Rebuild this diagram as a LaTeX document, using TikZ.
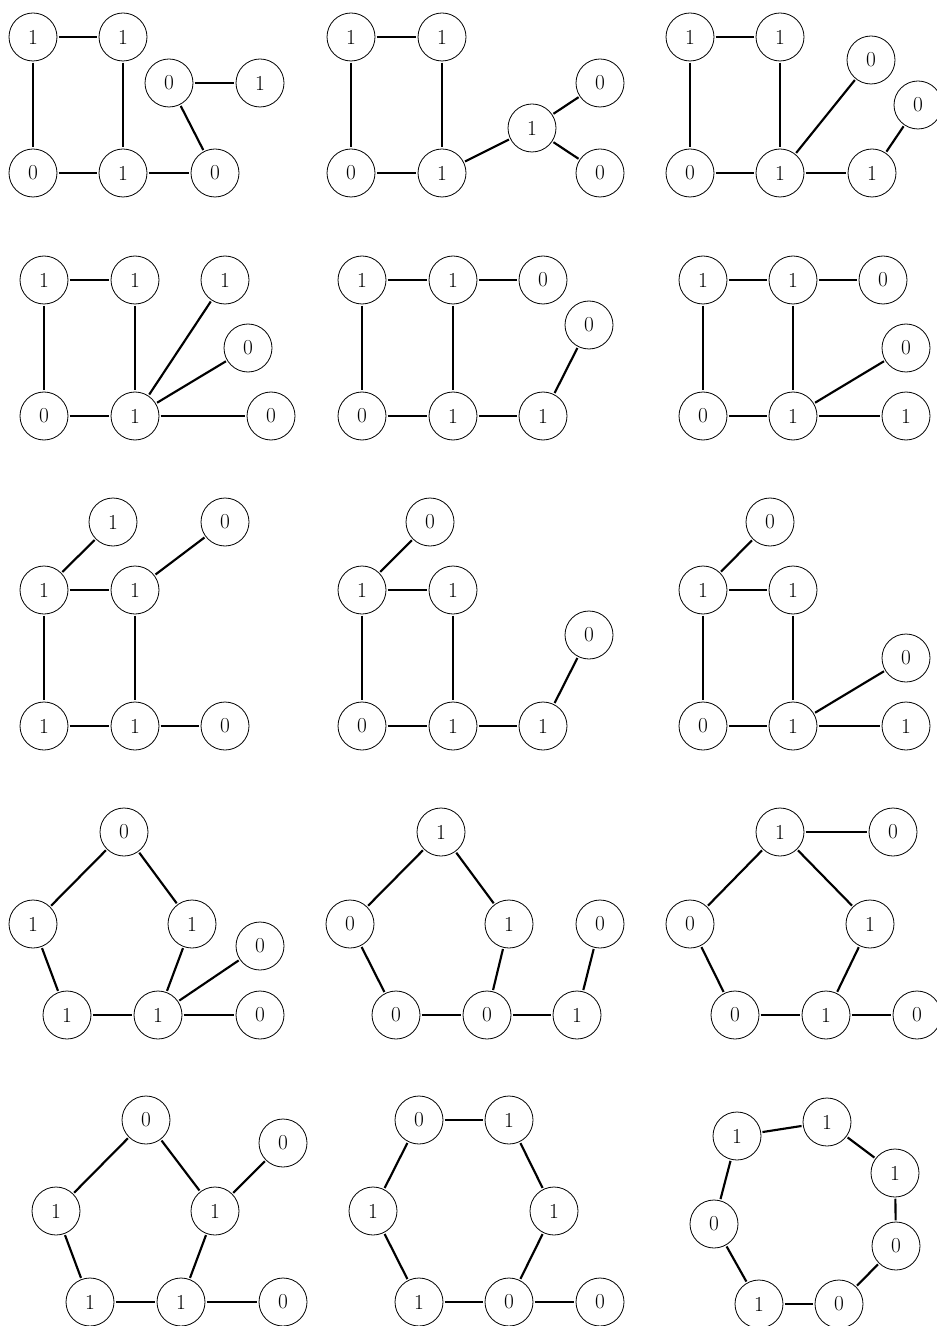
\documentclass[tikz,border=0pt]{standalone}
\begin{document}
\begin{tikzpicture}[x=0.75pt,y=-0.75pt,
  vtx/.style={circle,draw,line width=0.6pt,minimum size=36pt,inner sep=0pt,font=\fontsize{16}{18}\selectfont},
  edge/.style={line width=1.6pt,shorten <=1pt,shorten >=1pt}]
\useasboundingbox (0,0) rectangle (936,1326);
% Graph 1
\node[vtx] (a1) at (33,37) {1};
\node[vtx] (a2) at (123,37) {1};
\node[vtx] (a3) at (169,83) {0};
\node[vtx] (a4) at (260,83) {1};
\node[vtx] (a5) at (33,173) {0};
\node[vtx] (a6) at (123,173) {1};
\node[vtx] (a7) at (215,173) {0};
\draw[edge] (a1)--(a2); \draw[edge] (a1)--(a5); \draw[edge] (a2)--(a6);
\draw[edge] (a5)--(a6); \draw[edge] (a6)--(a7); \draw[edge] (a3)--(a4); \draw[edge] (a3)--(a7);
% Graph 2
\node[vtx] (b1) at (351,37) {1};
\node[vtx] (b2) at (442,37) {1};
\node[vtx] (b3) at (600,83) {0};
\node[vtx] (b4) at (532,128) {1};
\node[vtx] (b5) at (351,173) {0};
\node[vtx] (b6) at (442,173) {1};
\node[vtx] (b7) at (600,173) {0};
\draw[edge] (b1)--(b2); \draw[edge] (b1)--(b5); \draw[edge] (b2)--(b6);
\draw[edge] (b5)--(b6); \draw[edge] (b6)--(b4); \draw[edge] (b4)--(b3); \draw[edge] (b4)--(b7);
% Graph 3
\node[vtx] (c1) at (690,37) {1};
\node[vtx] (c2) at (780,37) {1};
\node[vtx] (c3) at (871,60) {0};
\node[vtx] (c4) at (918,105) {0};
\node[vtx] (c5) at (690,173) {0};
\node[vtx] (c6) at (780,173) {1};
\node[vtx] (c7) at (872,173) {1};
\draw[edge] (c1)--(c2); \draw[edge] (c1)--(c5); \draw[edge] (c2)--(c6);
\draw[edge] (c5)--(c6); \draw[edge] (c6)--(c3); \draw[edge] (c6)--(c7); \draw[edge] (c7)--(c4);
% Graph 4
\node[vtx] (d1) at (44,280) {1};
\node[vtx] (d2) at (135,280) {1};
\node[vtx] (d3) at (225,280) {1};
\node[vtx] (d4) at (248,348) {0};
\node[vtx] (d5) at (44,416) {0};
\node[vtx] (d6) at (135,416) {1};
\node[vtx] (d7) at (271,416) {0};
\draw[edge] (d1)--(d2); \draw[edge] (d1)--(d5); \draw[edge] (d2)--(d6);
\draw[edge] (d5)--(d6); \draw[edge] (d6)--(d3); \draw[edge] (d6)--(d4); \draw[edge] (d6)--(d7);
% Graph 5
\node[vtx] (e1) at (362,280) {1};
\node[vtx] (e2) at (453,280) {1};
\node[vtx] (e3) at (543,280) {0};
\node[vtx] (e4) at (589,325) {0};
\node[vtx] (e5) at (362,416) {0};
\node[vtx] (e6) at (453,416) {1};
\node[vtx] (e7) at (543,416) {1};
\draw[edge] (e1)--(e2); \draw[edge] (e2)--(e3); \draw[edge] (e1)--(e5); \draw[edge] (e2)--(e6);
\draw[edge] (e5)--(e6); \draw[edge] (e6)--(e7); \draw[edge] (e7)--(e4);
% Graph 6
\node[vtx] (f1) at (703,280) {1};
\node[vtx] (f2) at (793,280) {1};
\node[vtx] (f3) at (883,280) {0};
\node[vtx] (f4) at (906,348) {0};
\node[vtx] (f5) at (703,416) {0};
\node[vtx] (f6) at (793,416) {1};
\node[vtx] (f7) at (906,416) {1};
\draw[edge] (f1)--(f2); \draw[edge] (f2)--(f3); \draw[edge] (f1)--(f5); \draw[edge] (f2)--(f6);
\draw[edge] (f5)--(f6); \draw[edge] (f6)--(f4); \draw[edge] (f6)--(f7);
% Graph 7
\node[vtx] (g1) at (113,522) {1};
\node[vtx] (g2) at (225,522) {0};
\node[vtx] (g3) at (44,590) {1};
\node[vtx] (g4) at (135,590) {1};
\node[vtx] (g5) at (44,726) {1};
\node[vtx] (g6) at (135,726) {1};
\node[vtx] (g7) at (225,726) {0};
\draw[edge] (g3)--(g1); \draw[edge] (g3)--(g4); \draw[edge] (g4)--(g2); \draw[edge] (g3)--(g5);
\draw[edge] (g4)--(g6); \draw[edge] (g5)--(g6); \draw[edge] (g6)--(g7);
% Graph 8
\node[vtx] (h1) at (430,522) {0};
\node[vtx] (h2) at (362,590) {1};
\node[vtx] (h3) at (453,590) {1};
\node[vtx] (h4) at (589,635) {0};
\node[vtx] (h5) at (362,726) {0};
\node[vtx] (h6) at (453,726) {1};
\node[vtx] (h7) at (543,726) {1};
\draw[edge] (h2)--(h1); \draw[edge] (h2)--(h3); \draw[edge] (h2)--(h5); \draw[edge] (h3)--(h6);
\draw[edge] (h5)--(h6); \draw[edge] (h6)--(h7); \draw[edge] (h7)--(h4);
% Graph 9
\node[vtx] (i1) at (770,522) {0};
\node[vtx] (i2) at (703,590) {1};
\node[vtx] (i3) at (793,590) {1};
\node[vtx] (i4) at (906,658) {0};
\node[vtx] (i5) at (703,726) {0};
\node[vtx] (i6) at (793,726) {1};
\node[vtx] (i7) at (906,726) {1};
\draw[edge] (i2)--(i1); \draw[edge] (i2)--(i3); \draw[edge] (i2)--(i5); \draw[edge] (i3)--(i6);
\draw[edge] (i5)--(i6); \draw[edge] (i6)--(i4); \draw[edge] (i6)--(i7);
% Graph 10
\node[vtx] (j1) at (124,832) {0};
\node[vtx] (j2) at (33,924) {1};
\node[vtx] (j3) at (192,924) {1};
\node[vtx] (j4) at (260,946) {0};
\node[vtx] (j5) at (67,1015) {1};
\node[vtx] (j6) at (158,1015) {1};
\node[vtx] (j7) at (260,1015) {0};
\draw[edge] (j2)--(j1); \draw[edge] (j1)--(j3); \draw[edge] (j2)--(j5); \draw[edge] (j5)--(j6);
\draw[edge] (j3)--(j6); \draw[edge] (j6)--(j4); \draw[edge] (j6)--(j7);
% Graph 11
\node[vtx] (k1) at (441,832) {1};
\node[vtx] (k2) at (350,924) {0};
\node[vtx] (k3) at (509,924) {1};
\node[vtx] (k4) at (600,924) {0};
\node[vtx] (k5) at (396,1015) {0};
\node[vtx] (k6) at (487,1015) {0};
\node[vtx] (k7) at (577,1015) {1};
\draw[edge] (k2)--(k1); \draw[edge] (k1)--(k3); \draw[edge] (k2)--(k5); \draw[edge] (k5)--(k6);
\draw[edge] (k3)--(k6); \draw[edge] (k6)--(k7); \draw[edge] (k7)--(k4);
% Graph 12
\node[vtx] (l1) at (780,832) {1};
\node[vtx] (l2) at (893,832) {0};
\node[vtx] (l3) at (690,924) {0};
\node[vtx] (l4) at (870,924) {1};
\node[vtx] (l5) at (735,1015) {0};
\node[vtx] (l6) at (826,1015) {1};
\node[vtx] (l7) at (917,1015) {0};
\draw[edge] (l1)--(l2); \draw[edge] (l3)--(l1); \draw[edge] (l1)--(l4); \draw[edge] (l3)--(l5);
\draw[edge] (l5)--(l6); \draw[edge] (l4)--(l6); \draw[edge] (l6)--(l7);
% Graph 13
\node[vtx] (m1) at (146,1120) {0};
\node[vtx] (m2) at (283,1143) {0};
\node[vtx] (m3) at (56,1211) {1};
\node[vtx] (m4) at (215,1211) {1};
\node[vtx] (m5) at (90,1302) {1};
\node[vtx] (m6) at (181,1302) {1};
\node[vtx] (m7) at (283,1302) {0};
\draw[edge] (m3)--(m1); \draw[edge] (m1)--(m4); \draw[edge] (m4)--(m2); \draw[edge] (m3)--(m5);
\draw[edge] (m5)--(m6); \draw[edge] (m4)--(m6); \draw[edge] (m6)--(m7);
% Graph 14
\node[vtx] (n1) at (419,1120) {0};
\node[vtx] (n2) at (509,1120) {1};
\node[vtx] (n3) at (373,1211) {1};
\node[vtx] (n4) at (554,1211) {1};
\node[vtx] (n5) at (419,1302) {1};
\node[vtx] (n6) at (509,1302) {0};
\node[vtx] (n7) at (600,1302) {0};
\draw[edge] (n1)--(n2); \draw[edge] (n3)--(n1); \draw[edge] (n2)--(n4); \draw[edge] (n3)--(n5);
\draw[edge] (n5)--(n6); \draw[edge] (n4)--(n6); \draw[edge] (n6)--(n7);
% Graph 15
\node[vtx] (o1) at (737,1136) {1};
\node[vtx] (o2) at (827,1122) {1};
\node[vtx] (o3) at (895,1173) {1};
\node[vtx] (o4) at (714,1224) {0};
\node[vtx] (o5) at (896,1246) {0};
\node[vtx] (o6) at (759,1304) {1};
\node[vtx] (o7) at (839,1304) {0};
\draw[edge] (o1)--(o2); \draw[edge] (o2)--(o3); \draw[edge] (o3)--(o5); \draw[edge] (o1)--(o4);
\draw[edge] (o4)--(o6); \draw[edge] (o6)--(o7); \draw[edge] (o7)--(o5);
\end{tikzpicture}
\end{document}
